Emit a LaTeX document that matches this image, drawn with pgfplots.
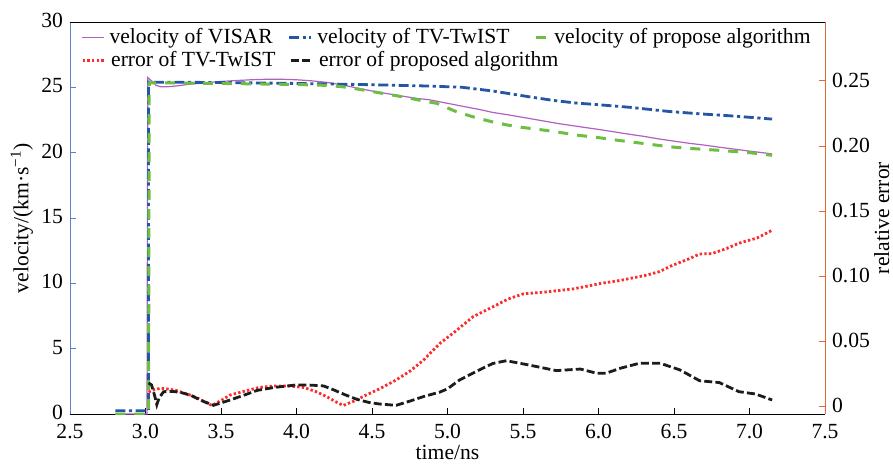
\documentclass[border=0pt]{standalone}
\usepackage{fontspec}
\setmainfont{Liberation Serif}
\usepackage{pgfplots}
\pgfplotsset{compat=1.18}
\definecolor{cvisar}{HTML}{B060C0}
\definecolor{ctv}{HTML}{2456A6}
\definecolor{cprop}{HTML}{6EBE44}
\definecolor{cerr}{HTML}{FF2B2B}
\definecolor{cblk}{HTML}{1C1C1C}
\definecolor{lspine}{HTML}{5B84C4}
\definecolor{rspine}{HTML}{DC6A3C}
\pgfplotsset{
  every axis/.append style={font=\fontsize{10.8}{13}\selectfont},
  legend image code/.code={\draw[#1] (0pt,0pt) -- (11pt,0pt);},
  shortleg/.style={legend image code/.code={\draw[##1] (0pt,0pt) -- (6pt,0pt);}},
}
\begin{document}
\begin{tikzpicture}
\begin{axis}[
  name=ax,
  scale only axis, width=377.5pt, height=196pt,
  xmin=2.5, xmax=7.5, ymin=0, ymax=30,
  axis x line*=bottom, axis y line*=left,
  x axis line style={black,-}, y axis line style={lspine,-},
  tick align=inside, major tick length=3pt,
  xtick={2.5,3,3.5,4,4.5,5,5.5,6,6.5,7,7.5},
  xticklabels={2.5,3.0,3.5,4.0,4.5,5.0,5.5,6.0,6.5,7.0,7.5},
  xticklabel style={yshift=-1.5pt},
  ytick={0,5,10,15,20,25,30},
  yticklabel style={yshift=0.8pt},
  xtick style={black}, ytick style={lspine},
  /pgf/number format/assume math mode=true,
  xlabel={time/ns}, ylabel={velocity/(km·s\textsuperscript{−1})},
  every axis x label/.style={at={(rel axis cs:0.5,0)}, yshift=-22.5pt, anchor=base},
  every axis y label/.style={at={(rel axis cs:0,0.5)}, xshift=-20.75pt, rotate=90, anchor=base},
  legend cell align=left,
  legend columns=3,
  legend style={at={(rel axis cs:0,1)}, anchor=north west, xshift=5.5pt, yshift=-3pt,
    draw=none, fill=none, inner sep=0pt, row sep=0pt,
    nodes={inner sep=0pt},
    /tikz/every odd column/.append style={column sep=2.5pt}},
]
\addplot[cvisar, line width=0.6pt] coordinates {
(2.80,0) (3.01,0) (3.015,25.75) (3.04,25.5) (3.07,25.15) (3.10,25.05) (3.15,25.05)
(3.20,25.1) (3.30,25.25) (3.40,25.35) (3.50,25.45) (3.60,25.52) (3.70,25.58)
(3.80,25.62) (3.90,25.62) (4.00,25.58) (4.10,25.5) (4.20,25.38) (4.30,25.2)
(4.40,24.95) (4.50,24.72) (4.60,24.52) (4.70,24.33) (4.80,24.15) (4.88,24.05)
(5.00,23.78) (5.10,23.55) (5.21,23.31) (5.30,23.08) (5.40,22.9) (5.54,22.62)
(5.65,22.4) (5.75,22.2) (5.88,21.98) (6.00,21.78) (6.10,21.6) (6.21,21.4)
(6.30,21.25) (6.40,21.05) (6.49,20.9) (6.60,20.72) (6.70,20.58) (6.80,20.42)
(6.90,20.27) (7.00,20.12) (7.10,19.98) (7.15,19.9)};
\addlegendentry{\makebox[89pt][l]{velocity of VISAR}}
\addplot[ctv, line width=1.4pt, dash pattern=on 5pt off 1.8pt on 1.6pt off 1.8pt] coordinates {
(2.80,0.25) (3.02,0.25) (3.02,25.4) (3.5,25.37) (4.0,25.3) (4.5,25.2) (4.88,25.1)
(5.1,25.0) (5.3,24.72) (5.54,24.28) (5.7,24.0) (5.85,23.8) (6.0,23.67) (6.21,23.47)
(6.47,23.15) (6.7,22.95) (6.9,22.8) (7.15,22.57)};
\addlegendentry{\makebox[108.5pt][l]{velocity of TV-TwIST}}
\addplot[cprop, line width=1.5pt, dash pattern=on 5pt off 4.5pt, shortleg] coordinates {
(2.80,0) (3.02,0) (3.025,25.35) (3.5,25.3) (4.0,25.22) (4.2,25.15) (4.3,25.05)
(4.4,24.88) (4.5,24.68) (4.6,24.48) (4.7,24.28) (4.8,24.05) (4.93,23.77)
(5.06,23.13) (5.19,22.67) (5.32,22.29) (5.46,21.98) (5.59,21.8) (5.72,21.6)
(5.85,21.35) (5.99,21.17) (6.12,20.96) (6.3,20.7) (6.47,20.45) (6.6,20.33)
(6.8,20.18) (7.0,20.0) (7.15,19.8)};
\addlegendentry{velocity of propose algorithm}
\end{axis}
\begin{axis}[
  scale only axis, width=377.5pt, height=196pt,
  xmin=2.5, xmax=7.5, ymin=-0.00638, ymax=0.29515,
  axis x line*=top, axis y line*=right,
  x axis line style={black,-}, y axis line style={rspine,-},
  xtick=\empty,
  tick align=inside, major tick length=3pt,
  ytick={0,0.05,0.10,0.15,0.20,0.25},
  yticklabels={0,0.05,0.10,0.15,0.20,0.25},
  ytick style={rspine},
  /pgf/number format/assume math mode=true,
  ylabel={relative error},
  every axis y label/.style={at={(rel axis cs:1,0.5)}, xshift=32pt, rotate=90, anchor=base},
  legend cell align=left,
  legend columns=2,
  legend style={at={(rel axis cs:0,1)}, anchor=north west, xshift=5.5pt, yshift=-14.5pt,
    draw=none, fill=none, inner sep=0pt, row sep=0pt,
    nodes={inner sep=0pt},
    /tikz/every odd column/.append style={column sep=2.5pt}},
]
\addplot[cerr, line width=1.4pt, dash pattern=on 1.2pt off 1.1pt] coordinates {
(3.02,0.0105) (3.05,0.012) (3.10,0.0135) (3.15,0.0128) (3.20,0.0118) (3.25,0.0100)
(3.30,0.0080) (3.35,0.0055) (3.40,0.0025) (3.44,0.0002) (3.50,0.004) (3.56,0.0082)
(3.65,0.0110) (3.75,0.0140) (3.85,0.0152) (3.95,0.0152) (4.05,0.0140) (4.13,0.0108)
(4.20,0.0070) (4.26,0.0030) (4.31,0.0002) (4.38,0.0035) (4.44,0.0070) (4.55,0.0130)
(4.66,0.0198) (4.75,0.0265) (4.84,0.0350) (4.95,0.0480) (5.05,0.0570) (5.17,0.0685)
(5.30,0.0760) (5.40,0.0820) (5.50,0.0860) (5.65,0.0875) (5.83,0.0898) (5.95,0.0925)
(6.01,0.0940) (6.15,0.0965) (6.32,0.1005) (6.40,0.1030) (6.49,0.1080) (6.60,0.1130)
(6.67,0.1167) (6.75,0.1170) (6.85,0.1210) (6.93,0.1250) (7.05,0.1290) (7.15,0.1350)};
\addlegendentry{\makebox[89pt][l]{error of TV-TwIST}}
\addplot[cblk, line width=1.4pt, dash pattern=on 4pt off 1.6pt] coordinates {
(3.02,0.0175) (3.04,0.016) (3.06,0.008) (3.075,0.0008) (3.09,0.006) (3.12,0.0108)
(3.18,0.0110) (3.23,0.0103) (3.30,0.0080) (3.38,0.0035) (3.45,0.0003) (3.55,0.0040)
(3.65,0.0080) (3.74,0.0118) (3.85,0.0140) (4.00,0.0160) (4.10,0.0158) (4.18,0.0152)
(4.25,0.0120) (4.32,0.0085) (4.40,0.0049) (4.48,0.0025) (4.55,0.0013) (4.66,0.0003)
(4.75,0.0035) (4.84,0.0070) (4.95,0.0105) (5.00,0.0130) (5.08,0.0198) (5.21,0.0275)
(5.30,0.0325) (5.39,0.0346) (5.54,0.0313) (5.72,0.0270) (5.88,0.0282) (5.99,0.0249)
(6.05,0.0250) (6.15,0.0290) (6.27,0.0326) (6.41,0.0326) (6.54,0.0275) (6.67,0.0192)
(6.80,0.0178) (6.93,0.0108) (7.04,0.0090) (7.15,0.0044)};
\addlegendentry{error of proposed algorithm}
\end{axis}
\pgfresetboundingbox
\path[use as bounding box] ([shift={(-35pt,-24.5pt)}]ax.south west) rectangle ([shift={(411.5pt,207pt)}]ax.south west);
\end{tikzpicture}
\end{document}
